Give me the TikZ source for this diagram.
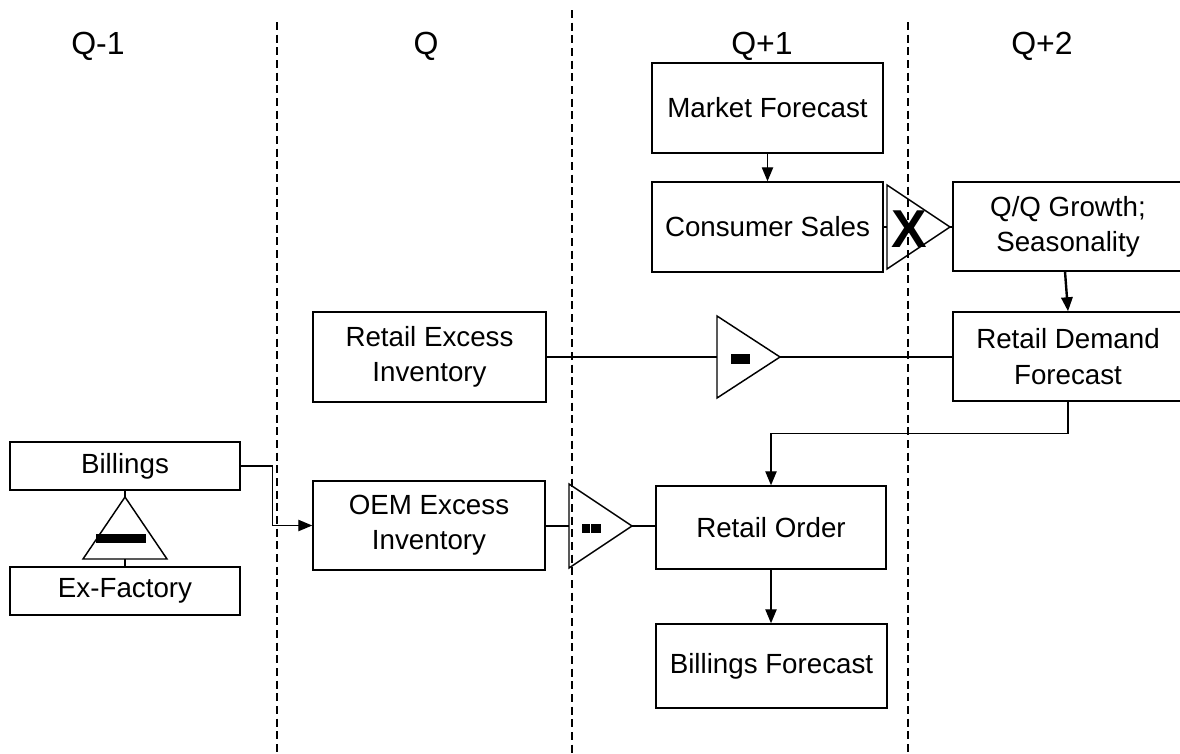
\documentclass[tikz,border=0pt]{standalone}
\usepackage{fontspec}
\setmainfont{Liberation Sans}
\usetikzlibrary{arrows.meta,calc}
\begin{document}
\begin{tikzpicture}[x=0.75pt,y=-0.75pt,
  box/.style={draw, line width=1.1pt, align=center, inner sep=0pt,
    font=\fontsize{20.8}{26.5}\selectfont},
  sz/.style 2 args={minimum width={#1*0.75pt}, minimum height={#2*0.75pt}},
  wire/.style={line width=1.05pt},
  arr/.style={wire, -{Triangle[length=10.5pt,width=8.5pt]}},
  lane/.style={line width=0.85pt, dash pattern=on 6pt off 3.5pt},
  head/.style={font=\fontsize{24}{28}\selectfont},
  tri/.style={draw, line width=1.1pt, line join=miter}
]
\clip (0,0) rectangle (1180,753);
\useasboundingbox (0,0) rectangle (1180,753);

% quarter lanes
\draw[lane] (277,22) -- (277,753);
\draw[lane] (572,10) -- (572,753);
\draw[lane] (908,22) -- (908,753);

% quarter headings
\node[head] (hq0) at (98,46) {Q-1};
\node[head] (hq1) at (426,46) {Q};
\node[head] (hq2) at (762,46) {Q+1};
\node[head] (hq3) at (1042,46) {Q+2};

% blocks
\node[box, sz={231}{90}] (mf)  at (767.5,108)  {Market Forecast};
\node[box, sz={231}{90}] (cs)  at (767.5,227)  {Consumer Sales};
\node[box, sz={230}{89}] (qq)  at (1068,226.5) {Q/Q Growth;\\Seasonality};
\node[box, sz={230}{89}] (rdf) at (1068,356.5) {Retail Demand\\Forecast};
\node[box, sz={233}{90}] (rei) at (429.5,357)  {Retail Excess\\Inventory};
\node[box, sz={232}{89}] (oem) at (429,525.5)  {OEM Excess\\Inventory};
\node[box, sz={230}{83}] (ro)  at (771,527.5)  {Retail Order};
\node[box, sz={231}{84}] (bf)  at (771.5,666)  {Billings Forecast};
\node[box, sz={230}{48}] (bil) at (125,466)    {Billings};
\node[box, sz={230}{48}] (exf) at (125,591)    {Ex-Factory};

% multiply block
\coordinate (tx)  at (887,227);
\coordinate (txo) at (950,227);
\draw[tri] (tx) ++(0,-42) -- ++(63,42) -- ++(-63,42) -- cycle;
\node[font=\bfseries\fontsize{40}{40}\selectfont, inner sep=0pt] (xs) at (909,229) {X};
\draw[wire] (cs.east) -- (tx);
\draw[wire] (txo) -- (txo -| qq.west);

% subtract block (retail inventory)
\coordinate (tm)  at (717,357);
\coordinate (tmo) at (780,357);
\draw[tri] (tm) ++(0,-41) -- ++(63,41) -- ++(-63,41) -- cycle;
\fill (731,354) rectangle (750,364);
\draw[wire] (rei.east) -- (tm);
\draw[wire] (tmo) -- (tmo -| rdf.west);

% subtract block (OEM inventory)
\coordinate (tl)  at (569,526);
\coordinate (tlo) at (632,526);
\draw[tri] (tl) ++(0,-42) -- ++(63,42) -- ++(-63,42) -- cycle;
\fill (582,524) rectangle (590,533);
\fill (590.8,524) rectangle (601,533);
\draw[wire] (tl -| oem.east) -- (tl);
\draw[wire] (tlo) -- (tlo -| ro.west);

% subtract block (billings)
\coordinate (tb)  at (125,497);
\coordinate (tbb) at (125,559);
\draw[tri] (tb) -- ++(42,62) -- ++(-84,0) -- cycle;
\fill (96,534) rectangle (146,543);
\draw[wire] (bil.south) -- (tb);
\draw[wire] (tbb) -- (exf.north);

% flow arrows
\draw[arr] (mf.south) -- (cs.north);
\draw[arr, line width=1.8pt] ($(qq.south)+(-3,0)$) -- (rdf.north);
\draw[arr] (rdf.south) -- ++(0,32) -| (ro.north);
\draw[arr] (ro.south) -- (ro.south |- bf.north);
\draw[arr] (bil.east) -- ++(32,0) |- (oem.west);
\end{tikzpicture}
\end{document}
